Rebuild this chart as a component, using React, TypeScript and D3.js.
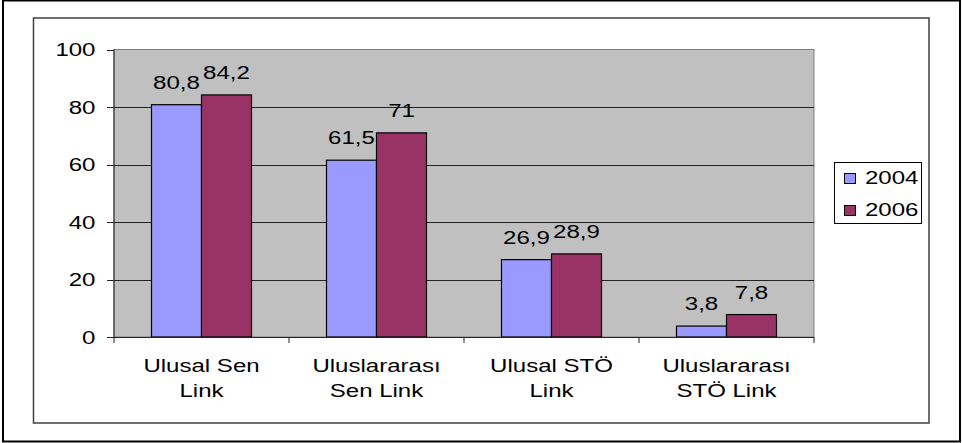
import React from "react";
import * as d3 from "d3";

const categories: string[][] = [
  ["Ulusal Sen", "Link"],
  ["Uluslararası", "Sen Link"],
  ["Ulusal STÖ", "Link"],
  ["Uluslararası", "STÖ Link"],
];
const seriesNames = ["2004", "2006"];
const values2004 = [80.8, 61.5, 26.9, 3.8];
const values2006 = [84.2, 71, 28.9, 7.8];
const valueLabels2004 = ["80,8", "61,5", "26,9", "3,8"];
const valueLabels2006 = ["84,2", "71", "28,9", "7,8"];
const yTicks = [0, 20, 40, 60, 80, 100];
const colors = ["#9999FF", "#993366"];

const W = 963;
const H = 443;
const PL = 114, PR = 814, PT = 49.5, PB = 337;
const SX = 1.3;
const FONT = "'Liberation Sans', Arial, sans-serif";

function ST({ x, y, anchor = "middle", size = 18.5, children }: any) {
  return (
    <text
      transform={`translate(${x},${y}) scale(${SX},1)`}
      textAnchor={anchor}
      fontFamily={FONT}
      fontSize={size}
      fill="#000"
    >
      {children}
    </text>
  );
}

export default function App() {
  const y = d3.scaleLinear().domain([0, 100]).range([PB, PT]);
  const x0 = d3.scaleBand<number>().domain(d3.range(categories.length)).range([PL, PR]).paddingInner(0).paddingOuter(0);
  const bw = x0.bandwidth();
  const barW = bw / 3.5;
  const x1 = d3.scaleBand<number>().domain([0, 1]).range([bw * 0.75 / 3.5, bw * 0.75 / 3.5 + 2 * barW]);
  const series = [values2004, values2006];
  const labels = [valueLabels2004, valueLabels2006];
  const boundaries = d3.range(categories.length + 1).map((i) => PL + i * bw);

  return (
    <svg width={W} height={H} style={{ position: "absolute", left: 0, top: 0, background: "#fff" }}>
      <rect x={3} y={0.5} width={957} height={441} fill="#fff" stroke="#000" strokeWidth={2} />
      <rect x={33.5} y={18} width={895.5} height={405} fill="#fff" stroke="#404040" strokeWidth={1.5} />
      <rect x={PL} y={PT} width={PR - PL} height={PB - PT} fill="#C0C0C0" stroke="#808080" strokeWidth={1} />
      {yTicks.map((t) => (
        <g key={t}>
          {t > 0 && t < 100 && (
            <line x1={PL} x2={PR} y1={Math.round(y(t)) + 0.5} y2={Math.round(y(t)) + 0.5} stroke="#222" strokeWidth={1} />
          )}
          <line x1={107} x2={PL} y1={Math.round(y(t)) + 0.5} y2={Math.round(y(t)) + 0.5} stroke="#222" strokeWidth={1} />
          <ST x={95.5} y={y(t) + 6.5} anchor="end">{String(t)}</ST>
        </g>
      ))}
      {series.map((vals, si) =>
        vals.map((v, ci) => {
          const bx = (x0(ci) as number) + (x1(si) as number);
          return (
            <g key={`${si}-${ci}`}>
              <rect x={bx} y={y(v)} width={barW} height={PB - y(v)} fill={colors[si]} stroke="#000" strokeWidth={1.2} />
              <ST x={bx + barW / 2} y={y(v) - 16}>{labels[si][ci]}</ST>
            </g>
          );
        })
      )}
      <line x1={PL} x2={PL} y1={PT} y2={PB} stroke="#222" strokeWidth={1} />
      <line x1={PL} x2={PR} y1={PB + 0.5} y2={PB + 0.5} stroke="#222" strokeWidth={1} />
      {boundaries.map((bx, i) => (
        <line key={i} x1={bx} x2={bx} y1={PB} y2={PB + 6} stroke="#222" strokeWidth={1} />
      ))}
      {categories.map((lines, ci) => {
        const cx = (x0(ci) as number) + bw / 2;
        return (
          <g key={ci}>
            {lines.map((ln, li) => (
              <ST key={li} x={cx} y={372 + li * 25}>{ln}</ST>
            ))}
          </g>
        );
      })}
      <rect x={834.5} y={162.5} width={87} height={61} fill="#fff" stroke="#000" strokeWidth={1} />
      {seriesNames.map((n, i) => (
        <g key={n}>
          <rect x={844.5} y={173.5 + i * 32} width={11} height={10} fill={colors[i]} stroke="#000" strokeWidth={1} />
          <ST x={865} y={183.5 + i * 32} anchor="start">{n}</ST>
        </g>
      ))}
    </svg>
  );
}
